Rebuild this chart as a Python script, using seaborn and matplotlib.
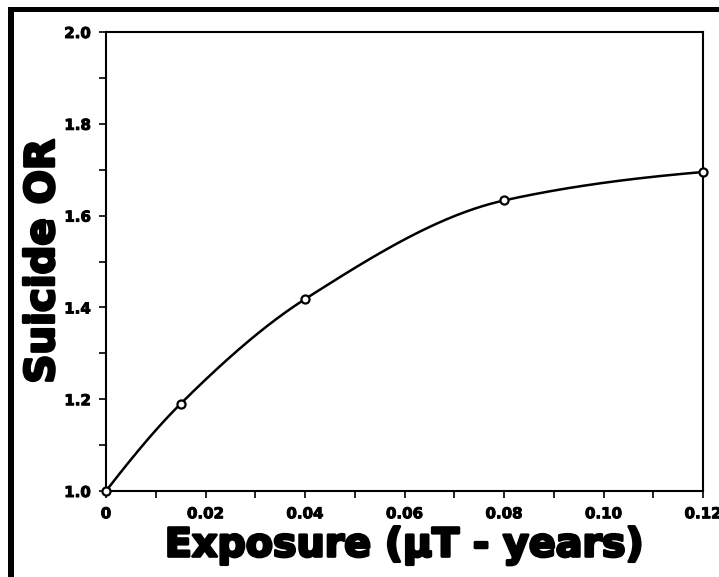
import numpy as np
import matplotlib
matplotlib.use("Agg")
import matplotlib.pyplot as plt
import matplotlib.patheffects as pe
import seaborn as sns
import pandas as pd
from matplotlib.ticker import MultipleLocator, FixedLocator, FixedFormatter

# ---- data ----
exposure = [0.0, 0.015, 0.04, 0.08, 0.12]
suicide_or = [1.0, 1.19, 1.418, 1.633, 1.695]
x_ticks = [0.0, 0.02, 0.04, 0.06, 0.08, 0.10, 0.12]
x_tick_labels = ["0", "0.02", "0.04", "0.06", "0.08", "0.10", "0.12"]
y_ticks = [1.0, 1.2, 1.4, 1.6, 1.8, 2.0]
y_tick_labels = ["1.0", "1.2", "1.4", "1.6", "1.8", "2.0"]


def pchip(x, y, xs):
    x = np.asarray(x, float); y = np.asarray(y, float)
    h = np.diff(x); d = np.diff(y) / h
    n = len(x); m = np.zeros(n)
    for k in range(1, n - 1):
        if d[k - 1] * d[k] > 0:
            w1 = 2 * h[k] + h[k - 1]; w2 = h[k] + 2 * h[k - 1]
            m[k] = (w1 + w2) / (w1 / d[k - 1] + w2 / d[k])
    m[0] = ((2 * h[0] + h[1]) * d[0] - h[0] * d[1]) / (h[0] + h[1])
    m[-1] = d[-1] * 0.6
    idx = np.clip(np.searchsorted(x, xs) - 1, 0, n - 2)
    t = (xs - x[idx]) / h[idx]
    h00 = 2 * t**3 - 3 * t**2 + 1; h10 = t**3 - 2 * t**2 + t
    h01 = -2 * t**3 + 3 * t**2; h11 = t**3 - t**2
    return h00 * y[idx] + h10 * h[idx] * m[idx] + h01 * y[idx + 1] + h11 * h[idx] * m[idx + 1]


sns.set_theme(style="white")
plt.rcParams['font.family'] = ['DejaVu Sans']
plt.rcParams['text.color'] = 'black'
plt.rcParams['axes.labelcolor'] = 'black'
plt.rcParams['xtick.color'] = 'black'
plt.rcParams['ytick.color'] = 'black'

fig = plt.figure(figsize=(7.19, 5.77), dpi=100)
ax = fig.add_axes([106 / 719, 1 - 491 / 577, 597 / 719, 459 / 577])

xs = np.linspace(0, 0.12, 400)
curve = pd.DataFrame({"x": xs, "y": pchip(exposure, suicide_or, xs)})
pts = pd.DataFrame({"x": exposure, "y": suicide_or})
sns.lineplot(data=curve, x="x", y="y", ax=ax, color="black", linewidth=1.8)
sns.scatterplot(data=pts, x="x", y="y", ax=ax, s=34, facecolor="white",
                edgecolor="black", linewidth=1.6, zorder=5, clip_on=False)

ax.set_xlim(0, 0.12)
ax.set_ylim(1.0, 2.0)
ax.xaxis.set_major_locator(FixedLocator(x_ticks))
ax.xaxis.set_major_formatter(FixedFormatter(x_tick_labels))
ax.yaxis.set_major_locator(FixedLocator(y_ticks))
ax.yaxis.set_major_formatter(FixedFormatter(y_tick_labels))
ax.xaxis.set_minor_locator(MultipleLocator(0.01))
ax.yaxis.set_minor_locator(MultipleLocator(0.1))

for s in ax.spines.values():
    s.set_visible(True)
    s.set_color("black")
    s.set_linewidth(1.5)

ax.tick_params(axis="both", which="both", direction="out", length=5, width=1.2,
               color="black", labelcolor="black", top=False, right=False, bottom=True, left=True)
ax.tick_params(axis="x", which="major", labelsize=10.8, pad=6)
ax.tick_params(axis="y", which="major", labelsize=10.8, pad=6)
thin = [pe.withStroke(linewidth=0.7, foreground="black")]
for lab in ax.get_xticklabels() + ax.get_yticklabels():
    lab.set_fontweight("bold")
    lab.set_path_effects(thin)

heavy = [pe.withStroke(linewidth=2.0, foreground="black")]
ax.set_xlabel("Exposure (µT - years)", fontsize=28.5, fontweight="heavy", labelpad=3,
              color="black", path_effects=heavy)
ax.set_ylabel("Suicide OR", fontsize=29, fontweight="heavy", labelpad=1,
              color="black", path_effects=heavy)

# figure frame (top and left edges)
fig.add_artist(plt.Rectangle((8 / 719, 1 - 12 / 577), 1, 5 / 577, transform=fig.transFigure,
                             color="black", lw=0))
fig.add_artist(plt.Rectangle((8 / 719, 0), 6 / 719, 1 - 7 / 577, transform=fig.transFigure,
                             color="black", lw=0))

fig.savefig("out.png", dpi=100)
